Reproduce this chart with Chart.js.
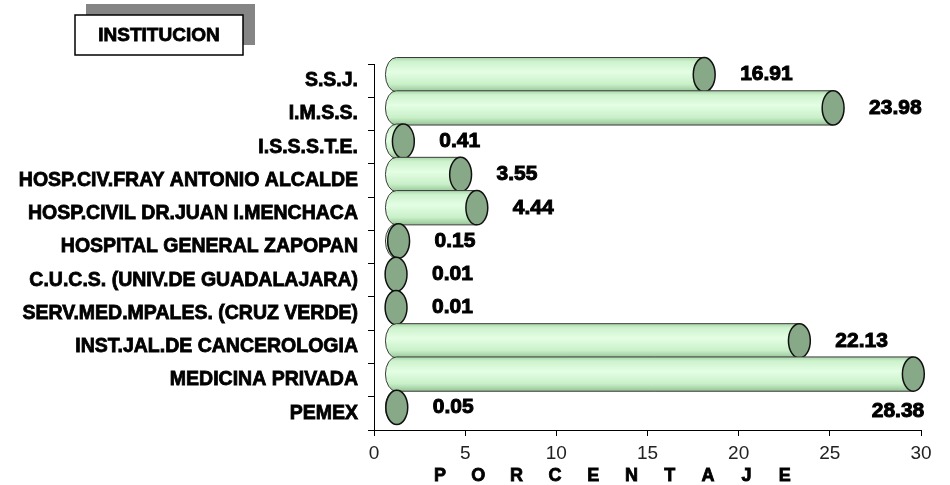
<!DOCTYPE html>
<html>
<head>
<meta charset="utf-8">
<script src="https://cdn.jsdelivr.net/npm/chart.js@4/dist/chart.umd.min.js"></script>
<style>
  html, body { margin: 0; padding: 0; background: #ffffff; }
  #wrap { position: relative; width: 950px; height: 485px; }
</style>
</head>
<body>
<div id="wrap"><canvas id="c"></canvas></div>
<script>
// ---- data ----
const categories = [
  "S.S.J.",
  "I.M.S.S.",
  "I.S.S.S.T.E.",
  "HOSP.CIV.FRAY ANTONIO ALCALDE",
  "HOSP.CIVIL DR.JUAN I.MENCHACA",
  "HOSPITAL GENERAL ZAPOPAN",
  "C.U.C.S. (UNIV.DE GUADALAJARA)",
  "SERV.MED.MPALES. (CRUZ VERDE)",
  "INST.JAL.DE CANCEROLOGIA",
  "MEDICINA PRIVADA",
  "PEMEX"
];
const porcentajes = [16.91, 23.98, 0.41, 3.55, 4.44, 0.15, 0.01, 0.01, 22.13, 28.38, 0.05];
const xTicks = [0, 5, 10, 15, 20, 25, 30];
const axisTitleY = "INSTITUCION";
const axisTitleX = "PORCENTAJE";

const FONT = "'Liberation Sans', Arial, Helvetica, sans-serif";

// ---- cylinder bars + value labels ----
const cylinderPlugin = {
  id: 'cylinders',
  afterDatasetsDraw(chart) {
    const ctx = chart.ctx;
    const xs = chart.scales.x;
    const unit = xs.getPixelForValue(1) - xs.getPixelForValue(0);
    const dx = 1.2 * unit;   // 3D depth shift
    const rx = 0.6 * unit;   // cap ellipse half width
    const dy = -6;
    const meta = chart.getDatasetMeta(0);
    ctx.save();
    meta.data.forEach((el) => {
      const ry = el.height / 2 + 0.5;
      const cy = el.y + dy;
      const x0 = el.base + dx;
      const x1 = el.x + dx;
      const g = ctx.createLinearGradient(0, cy - ry, 0, cy + ry);
      g.addColorStop(0, '#a9d6a9');
      g.addColorStop(0.12, '#cdf2cd');
      g.addColorStop(0.42, '#e4fee4');
      g.addColorStop(0.78, '#c9f0c9');
      g.addColorStop(1, '#96c496');
      ctx.beginPath();
      ctx.moveTo(x1, cy - ry);
      ctx.lineTo(x0, cy - ry);
      ctx.ellipse(x0, cy, rx, ry, 0, -Math.PI / 2, Math.PI / 2, true);
      ctx.lineTo(x1, cy + ry);
      ctx.closePath();
      ctx.fillStyle = g;
      ctx.fill();
      ctx.lineWidth = 1;
      ctx.strokeStyle = '#3a3a3a';
      ctx.stroke();
      ctx.beginPath();
      ctx.ellipse(x1, cy, rx, ry, 0, 0, Math.PI * 2);
      ctx.fillStyle = '#87a987';
      ctx.fill();
      ctx.lineWidth = 1.5;
      ctx.strokeStyle = '#111111';
      ctx.stroke();
    });
    ctx.font = "bold 21px " + FONT;
    ctx.fillStyle = '#000000';
    ctx.strokeStyle = '#000000';
    ctx.lineWidth = 1;
    ctx.textBaseline = 'middle';
    meta.data.forEach((el, i) => {
      const txt = porcentajes[i].toFixed(2);
      const capRight = el.x + dx + rx;
      let x = capRight + 25;
      let y = el.y - 6;
      const w = ctx.measureText(txt).width;
      if (x + w > chart.chartArea.right + 8) {
        ctx.textAlign = 'right';
        x = capRight;
        y = el.y - 6 + el.height + 4;
      } else {
        ctx.textAlign = 'left';
      }
      ctx.strokeText(txt, x, y);
      ctx.fillText(txt, x, y);
    });
    ctx.restore();
  },
  afterDraw(chart) {
    const ctx = chart.ctx;
    ctx.save();
    ctx.fillStyle = '#858585';
    ctx.fillRect(86, 4, 169, 41);
    ctx.fillStyle = '#ffffff';
    ctx.fillRect(75, 15, 168, 40);
    ctx.lineWidth = 1.5;
    ctx.strokeStyle = '#000000';
    ctx.strokeRect(75, 15, 168, 40);
    ctx.font = "bold 19px " + FONT;
    ctx.fillStyle = '#000000';
    ctx.textAlign = 'center';
    ctx.textBaseline = 'middle';
    ctx.lineWidth = 0.8;
    ctx.strokeText(axisTitleY, 159, 36);
    ctx.fillText(axisTitleY, 159, 36);
    ctx.font = "bold 18px " + FONT;
    const letters = axisTitleX.split('');
    letters.forEach((ch, k) => {
      const x = 440 + 38.3 * k;
      ctx.strokeText(ch, x, 476);
      ctx.fillText(ch, x, 476);
    });
    ctx.restore();
  }
};

new Chart(document.getElementById('c'), {
  type: 'bar',
  data: {
    labels: categories,
    datasets: [{
      data: porcentajes,
      backgroundColor: 'rgba(0,0,0,0)',
      borderWidth: 0,
      barPercentage: 1,
      categoryPercentage: 1
    }]
  },
  options: {
    indexAxis: 'y',
    responsive: true,
    maintainAspectRatio: false,
    animation: false,
    layout: { padding: { top: 64, right: 29, bottom: 0, left: 0 } },
    plugins: { legend: { display: false }, tooltip: { enabled: false } },
    scales: {
      x: {
        min: 0, max: 30,
        afterBuildTicks(scale) { scale.ticks = xTicks.map(v => ({ value: v })); },
        afterFit(scale) { scale.height = 55; },
        grid: { display: true, drawOnChartArea: false, drawTicks: true, tickLength: 6, color: '#000000' },
        border: { display: true, color: '#000000', width: 1 },
        ticks: { color: '#222222', font: { family: FONT, size: 19 }, padding: 6, maxRotation: 0 }
      },
      y: {
        afterFit(scale) { scale.width = 374; },
        grid: { display: true, drawOnChartArea: false, drawTicks: true, tickLength: 6, color: '#000000', offset: true },
        border: { display: true, color: '#000000', width: 1 },
        ticks: {
          color: '#000000',
          font: { family: FONT, size: 19.5, weight: 'bold' },
          padding: 10,
          textStrokeColor: '#000000',
          textStrokeWidth: 0.8,
          autoSkip: false
        }
      }
    }
  },
  plugins: [cylinderPlugin]
});
</script>
</body>
</html>
